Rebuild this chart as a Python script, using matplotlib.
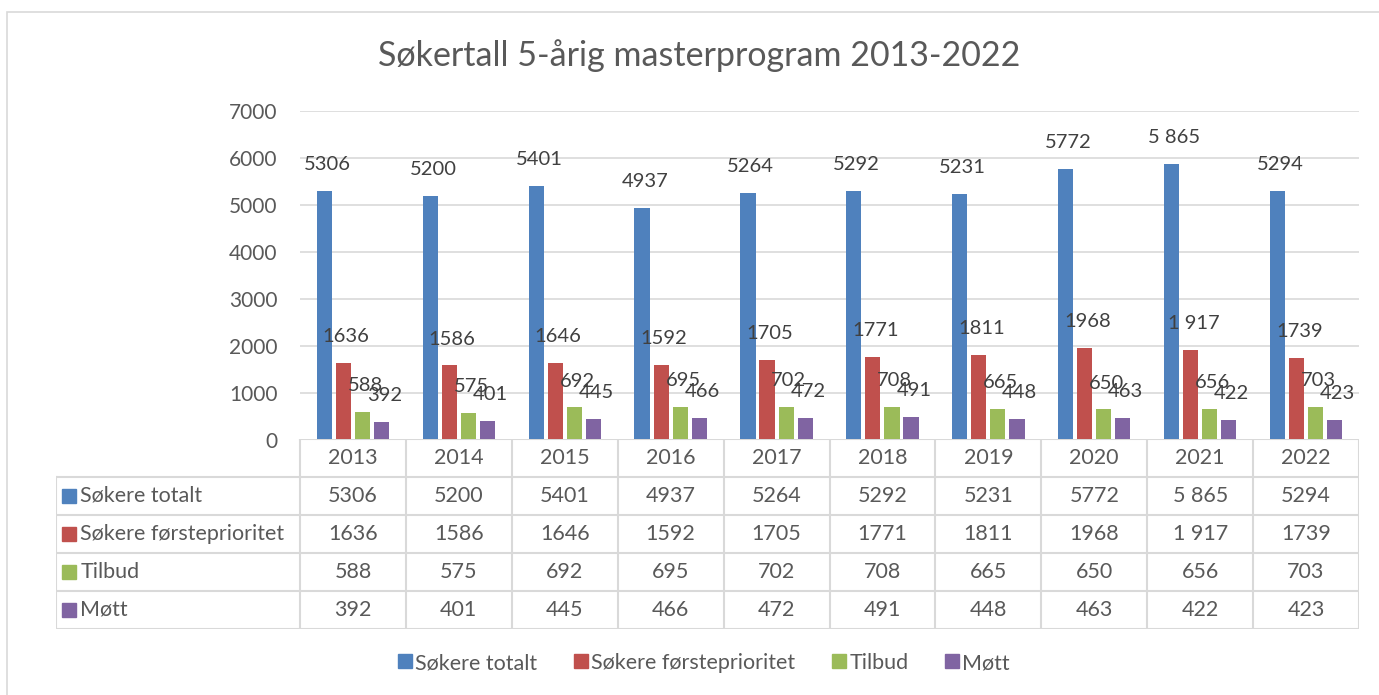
import numpy as np
import matplotlib.pyplot as plt
from matplotlib.patches import Rectangle
from matplotlib.lines import Line2D

plt.rcParams['font.family'] = ['Lato', 'DejaVu Sans']

# data
years = ['2013', '2014', '2015', '2016', '2017', '2018', '2019', '2020', '2021', '2022']
series_names = ['Søkere totalt', 'Søkere førsteprioritet', 'Tilbud', 'Møtt']
sokere_totalt = [5306, 5200, 5401, 4937, 5264, 5292, 5231, 5772, 5865, 5294]
sokere_forste = [1636, 1586, 1646, 1592, 1705, 1771, 1811, 1968, 1917, 1739]
tilbud = [588, 575, 692, 695, 702, 708, 665, 650, 656, 703]
mott = [392, 401, 445, 466, 472, 491, 448, 463, 422, 423]
# labels as shown in the chart (two with a thousands space)
lbl_totalt = ['5306', '5200', '5401', '4937', '5264', '5292', '5231', '5772', '5 865', '5294']
lbl_forste = ['1636', '1586', '1646', '1592', '1705', '1771', '1811', '1968', '1 917', '1739']
lbl_tilbud = [str(v) for v in tilbud]
lbl_mott = [str(v) for v in mott]

colors = ['#4F81BD', '#C0504D', '#9BBB59', '#8064A2']
txt = '#595959'
grid = '#D9D9D9'

W, H = 1379, 695
fig = plt.figure(figsize=(W / 100, H / 100), dpi=100)


def px(x0, y0, x1, y1):
    # pixel box -> figure fraction
    return [x0 / W, 1 - y1 / H, (x1 - x0) / W, (y1 - y0) / H]


# outer chart border
fig.patches.append(Rectangle((7 / W, -0.01), 1.02, 1 - 12 / H + 0.01,
                             transform=fig.transFigure, fill=False,
                             edgecolor=grid, lw=1.2))

fig.text(699 / W, 1 - 56 / H, 'Søkertall 5-årig masterprogram 2013-2022',
         ha='center', va='center', fontsize=24.5, color=txt)

# main bar plot
ax = fig.add_axes(px(300, 111, 1359, 440))
x = np.arange(len(years))
data = [sokere_totalt, sokere_forste, tilbud, mott]
labels = [lbl_totalt, lbl_forste, lbl_tilbud, lbl_mott]
bw = 0.143
step = 0.18
for i, (vals, lbls) in enumerate(zip(data, labels)):
    xs = x + (i - 1.5) * step
    ax.bar(xs, vals, width=bw, color=colors[i], zorder=3)
    for xi, v, l in zip(xs, vals, lbls):
        ax.annotate(l, (xi, v), xytext=(2, 19), textcoords='offset points',
                    ha='center', va='center', fontsize=14.5, color='#404040',
                    zorder=4)

ax.set_xlim(-0.5, len(years) - 0.5)
ax.set_ylim(0, 7000)
ax.set_yticks(np.arange(0, 7001, 1000))
ax.set_xticks([])
ax.grid(axis='y', color=grid, lw=1.2, zorder=0)
for s in ax.spines.values():
    s.set_visible(False)
ax.tick_params(axis='y', length=0, pad=16, labelsize=15, labelcolor=txt)

# data table below the plot
cw = (1359 - 300) / len(years)
left = -0.5 - (300 - 56) / cw
at = fig.add_axes(px(56, 439, 1359, 629))
at.set_xlim(left, len(years) - 0.5)
at.set_ylim(5, 0)
at.axis('off')
n = len(years)
lc = dict(color=grid, lw=1.5)
at.plot([-0.5, n - 0.5], [0, 0], **lc)
for r in range(1, 6):
    at.plot([left, n - 0.5], [r, r], **lc)
for c in range(n + 1):
    at.plot([c - 0.5, c - 0.5], [0, 5], **lc)
at.plot([left, left], [1, 5], **lc)

tfs = 15.5
for j, y in enumerate(years):
    at.text(j, 0.5, y, ha='center', va='center', fontsize=tfs, color=txt)
for r, (name, lbls) in enumerate(zip(series_names, labels)):
    yy = r + 1.5
    at.plot(left + 0.12, yy, marker='s', ms=10, color=colors[r], clip_on=False)
    at.text(left + 0.23, yy, name, ha='left', va='center', fontsize=tfs, color=txt)
    for j, l in enumerate(lbls):
        at.text(j, yy, l, ha='center', va='center', fontsize=tfs, color=txt)

# legend
handles = [Line2D([], [], marker='s', ls='', ms=10, color=c) for c in colors]
fig.legend(handles, series_names, loc='center', bbox_to_anchor=(703 / W, 1 - 663 / H),
           ncol=4, frameon=False, fontsize=15.5, labelcolor=txt,
           handletextpad=0.1, columnspacing=1.6, handlelength=0.8)

fig.savefig('out.png', dpi=100)
